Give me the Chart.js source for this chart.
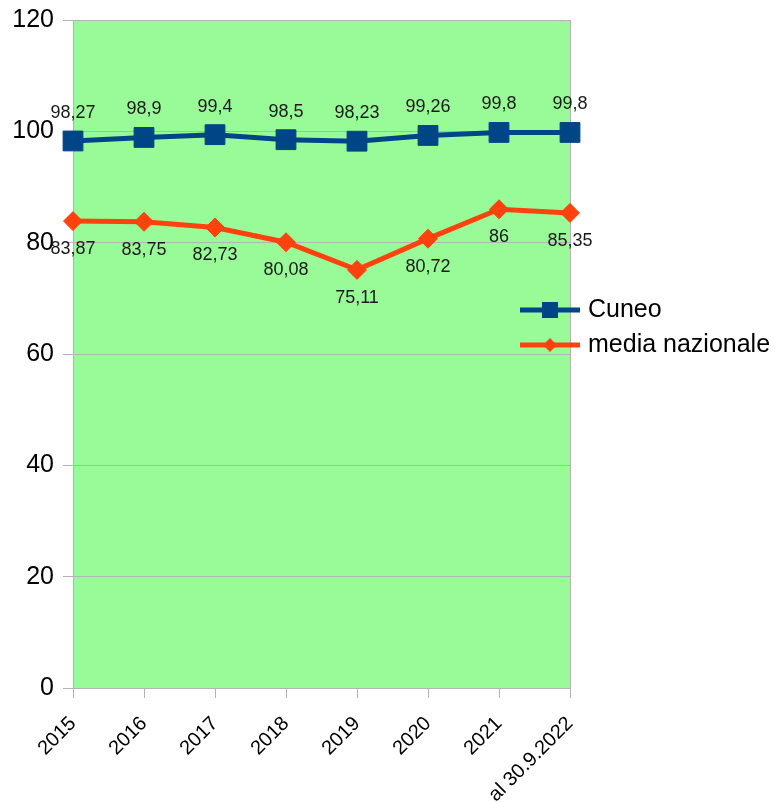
<!DOCTYPE html>
<html>
<head>
<meta charset="utf-8">
<script src="https://cdn.jsdelivr.net/npm/chart.js@4.4.1/dist/chart.umd.min.js"></script>
<style>
    body { margin: 0; background: #fff; }
    #wrap { width: 783px; height: 802px; }
</style>
</head>
<body>
<div id="wrap"><canvas id="chart-cuneo" width="783" height="802"></canvas></div>
<script>
let years = ['2015', '2016', '2017', '2018', '2019', '2020', '2021', 'al 30.9.2022'];
let cuneo = [98.27, 98.9, 99.4, 98.5, 98.23, 99.26, 99.8, 99.8];
let media_nazionale = [83.87, 83.75, 82.73, 80.08, 75.11, 80.72, 86, 85.35];
let y_ticks = [0, 20, 40, 60, 80, 100, 120];

let blue = '#004586';
let orange = '#ff420e';
let font_family = "'Liberation Sans', Arial, sans-serif";

// green wall behind the plot + right border line
let wall_plugin = {
    id: 'wall',
    beforeDraw(chart) {
        let a = chart.chartArea;
        let ctx = chart.ctx;
        ctx.save();
        ctx.fillStyle = '#98fb98';
        ctx.fillRect(a.left, a.top, a.right - a.left, a.bottom - a.top);
        ctx.restore();
    },
    beforeDatasetsDraw(chart) {
        let a = chart.chartArea;
        let ctx = chart.ctx;
        ctx.save();
        ctx.strokeStyle = '#b3b3b3';
        ctx.lineWidth = 1;
        ctx.beginPath();
        ctx.moveTo(a.right + 0.5, a.top);
        ctx.lineTo(a.right + 0.5, a.bottom);
        ctx.stroke();
        ctx.restore();
    }
};

// value labels, comma as decimal separator
let labels_plugin = {
    id: 'valueLabels',
    afterDatasetsDraw(chart) {
        let ctx = chart.ctx;
        ctx.save();
        ctx.font = '18px ' + font_family;
        ctx.fillStyle = '#1a1a1a';
        ctx.textAlign = 'center';
        ctx.textBaseline = 'middle';
        chart.data.datasets.forEach((ds, i) => {
            let meta = chart.getDatasetMeta(i);
            let dy = i == 0 ? -28 : 28;
            meta.data.forEach((pt, j) => {
                let txt = String(ds.data[j]).replace('.', ',');
                ctx.fillText(txt, pt.x, pt.y + dy);
            });
        });
        ctx.restore();
    }
};

// legend on the right, line + marker like the original
let legend_plugin = {
    id: 'sideLegend',
    afterDraw(chart) {
        let ctx = chart.ctx;
        ctx.save();
        let x0 = 520, x1 = 580;
        let rows = [310, 345];
        chart.data.datasets.forEach((ds, i) => {
            let y = rows[i];
            ctx.strokeStyle = ds.borderColor;
            ctx.lineWidth = 5;
            ctx.beginPath();
            ctx.moveTo(x0, y);
            ctx.lineTo(x1, y);
            ctx.stroke();
            ctx.fillStyle = ds.borderColor;
            let cx = (x0 + x1) / 2;
            if (i == 0) {
                ctx.fillRect(cx - 8, y - 8, 16, 16);
            } else {
                ctx.beginPath();
                ctx.moveTo(cx - 7, y);
                ctx.lineTo(cx, y - 7);
                ctx.lineTo(cx + 7, y);
                ctx.lineTo(cx, y + 7);
                ctx.closePath();
                ctx.fill();
            }
            ctx.fillStyle = '#000';
            ctx.font = '25px ' + font_family;
            ctx.textAlign = 'left';
            ctx.textBaseline = 'middle';
            ctx.fillText(ds.label, 588, y);
        });
        ctx.restore();
    }
};

let ctx = document.getElementById('chart-cuneo');
let chart = new Chart(ctx, {
    type: 'line',
    data: {
        labels: years,
        datasets: [
            {
                label: 'Cuneo',
                data: cuneo,
                borderColor: blue,
                backgroundColor: blue,
                borderWidth: 5,
                pointStyle: 'rect',
                pointRadius: 14,
                pointBorderWidth: 1,
                tension: 0,
                fill: false
            },
            {
                label: 'media nazionale',
                data: media_nazionale,
                borderColor: orange,
                backgroundColor: orange,
                borderWidth: 5,
                pointStyle: 'rectRot',
                pointRadius: 9.5,
                pointBorderWidth: 1,
                tension: 0,
                fill: false
            }
        ]
    },
    options: {
        responsive: false,
        animation: false,
        layout: { padding: { top: 20, right: 213, left: 0, bottom: 0 } },
        scales: {
            x: {
                offset: false,
                grid: { drawOnChartArea: false, drawTicks: true, tickLength: 10, color: '#b3b3b3' },
                border: { display: true, color: '#b3b3b3' },
                ticks: {
                    minRotation: 45,
                    maxRotation: 45,
                    autoSkip: false,
                    padding: 14,
                    color: '#000',
                    font: { size: 20, family: font_family }
                },
                afterFit(scale) { scale.height = 114; scale.paddingLeft = 0; scale.paddingRight = 0; }
            },
            y: {
                min: 0,
                max: 120,
                afterBuildTicks(scale) { scale.ticks = y_ticks.map(v => ({ value: v })); },
                grid: { color: '#b3b3b3', tickLength: 10 },
                border: { display: true, color: '#b3b3b3' },
                ticks: {
                    padding: 9,
                    color: '#000',
                    font: { size: 25, family: font_family }
                },
                afterFit(scale) { scale.width = 73; scale.paddingTop = 0; scale.paddingBottom = 0; }
            }
        },
        plugins: {
            legend: { display: false },
            tooltip: { enabled: false }
        }
    },
    plugins: [wall_plugin, labels_plugin, legend_plugin]
});
</script>
</body>
</html>
